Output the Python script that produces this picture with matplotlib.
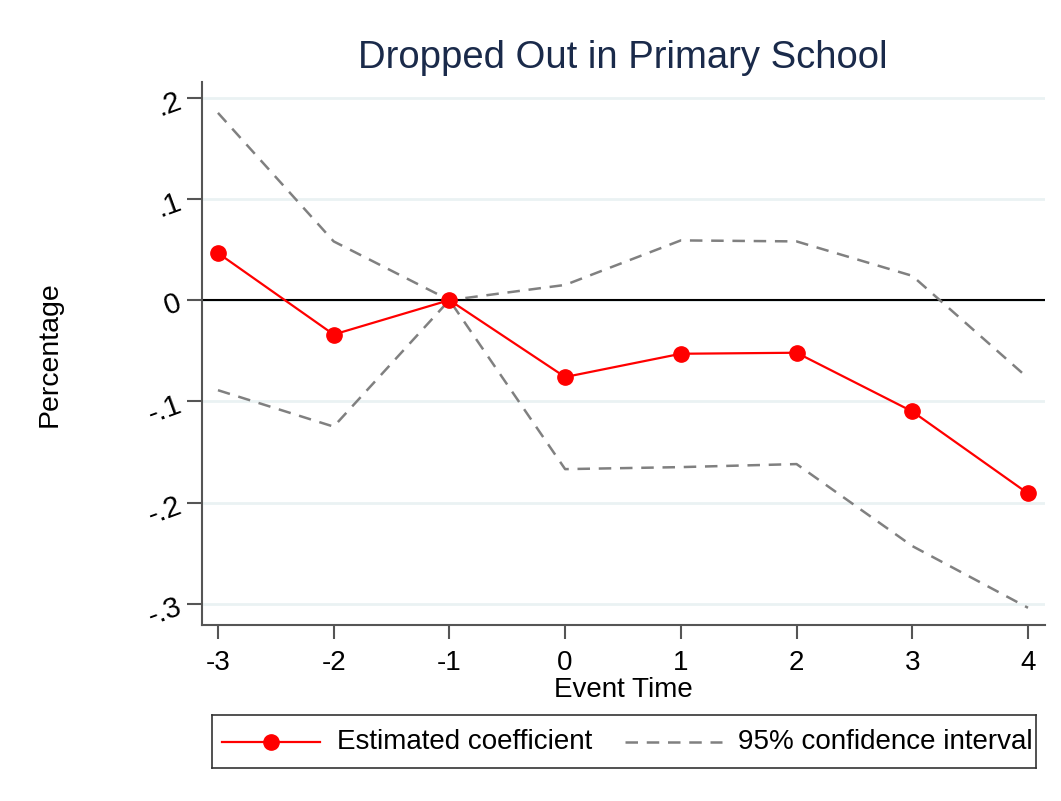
import numpy as np
import matplotlib
matplotlib.use("Agg")
import matplotlib.pyplot as plt

plt.rcParams['font.family'] = ['Liberation Sans', 'DejaVu Sans']

# event-time coefficients
event_time = [-3, -2, -1, 0, 1, 2, 3, 4]
coef = [0.0465, -0.034, 0.0, -0.076, -0.053, -0.052, -0.110, -0.191]
ci_upper = [0.185, 0.058, 0.0, 0.015, 0.059, 0.058, 0.024, -0.077]
ci_lower = [-0.089, -0.125, 0.0, -0.167, -0.165, -0.162, -0.243, -0.304]
y_ticks = [0.2, 0.1, 0.0, -0.1, -0.2, -0.3]
y_tick_labels = ['.2', '.1', '0', '-.1', '-.2', '-.3']

fig = plt.figure(figsize=(10.61, 8.01), dpi=100)
ax = fig.add_axes([202/1061, 1-625/801, (1045-202)/1061, (625-82)/801])

for yv in y_ticks:
    ax.axhline(yv, color='#eaf2f3', lw=2, zorder=0)
ax.axhline(0, color='black', lw=1.5, zorder=1)

ax.plot(event_time, ci_upper, color='#808080', lw=1.8, ls=(0, (5, 3.5)), zorder=2)
ax.plot(event_time, ci_lower, color='#808080', lw=1.8, ls=(0, (5, 3.5)), zorder=2)
ax.plot(event_time, coef, color='red', lw=1.6, marker='o', ms=11, zorder=3)

ax.set_xlim(-3.138, 4.147)
ax.set_ylim(-0.321, 0.2155)
ax.set_xticks(event_time)
ax.set_xticklabels([str(t) for t in event_time], fontsize=20)
ax.set_yticks(y_ticks)
ax.set_yticklabels(y_tick_labels, fontsize=21, rotation=20)
ax.tick_params(axis='both', direction='out', width=1.5, color='#555555')
ax.tick_params(axis='x', length=10, pad=8)
ax.tick_params(axis='y', length=11, pad=1)

for s in ['top', 'right']:
    ax.spines[s].set_visible(False)
for s in ['left', 'bottom']:
    ax.spines[s].set_color('#555555')
    ax.spines[s].set_linewidth(1.5)

ax.set_xlabel('Event Time', fontsize=20, labelpad=1)
fig.text(50/1061, 1-354/801, 'Percentage', rotation=90, fontsize=20.5,
         ha='center', va='center')
fig.text(623/1061, 1-58/801, 'Dropped Out in Primary School', fontsize=27.5,
         color='#1a2a4a', ha='center', va='center')

# legend box
lg_ax = fig.add_axes([212/1061, 1-768/801, (1036-212)/1061, (768-715)/801])
lg_ax.set_xlim(212, 1036)
lg_ax.set_ylim(768, 715)
lg_ax.set_xticks([])
lg_ax.set_yticks([])
for s in lg_ax.spines.values():
    s.set_color('#333333')
    s.set_linewidth(1.2)
lg_ax.plot([222, 320], [742, 742], color='red', lw=1.6)
lg_ax.plot([271], [742], color='red', marker='o', ms=11)
lg_ax.text(337, 742, 'Estimated coefficient', fontsize=20, va='center', ha='left')
lg_ax.plot([625, 722], [742, 742], color='#808080', lw=1.8, ls=(0, (5, 3.5)))
lg_ax.text(738, 742, '95% confidence interval', fontsize=20, va='center', ha='left')

fig.savefig('out.png', dpi=100)
